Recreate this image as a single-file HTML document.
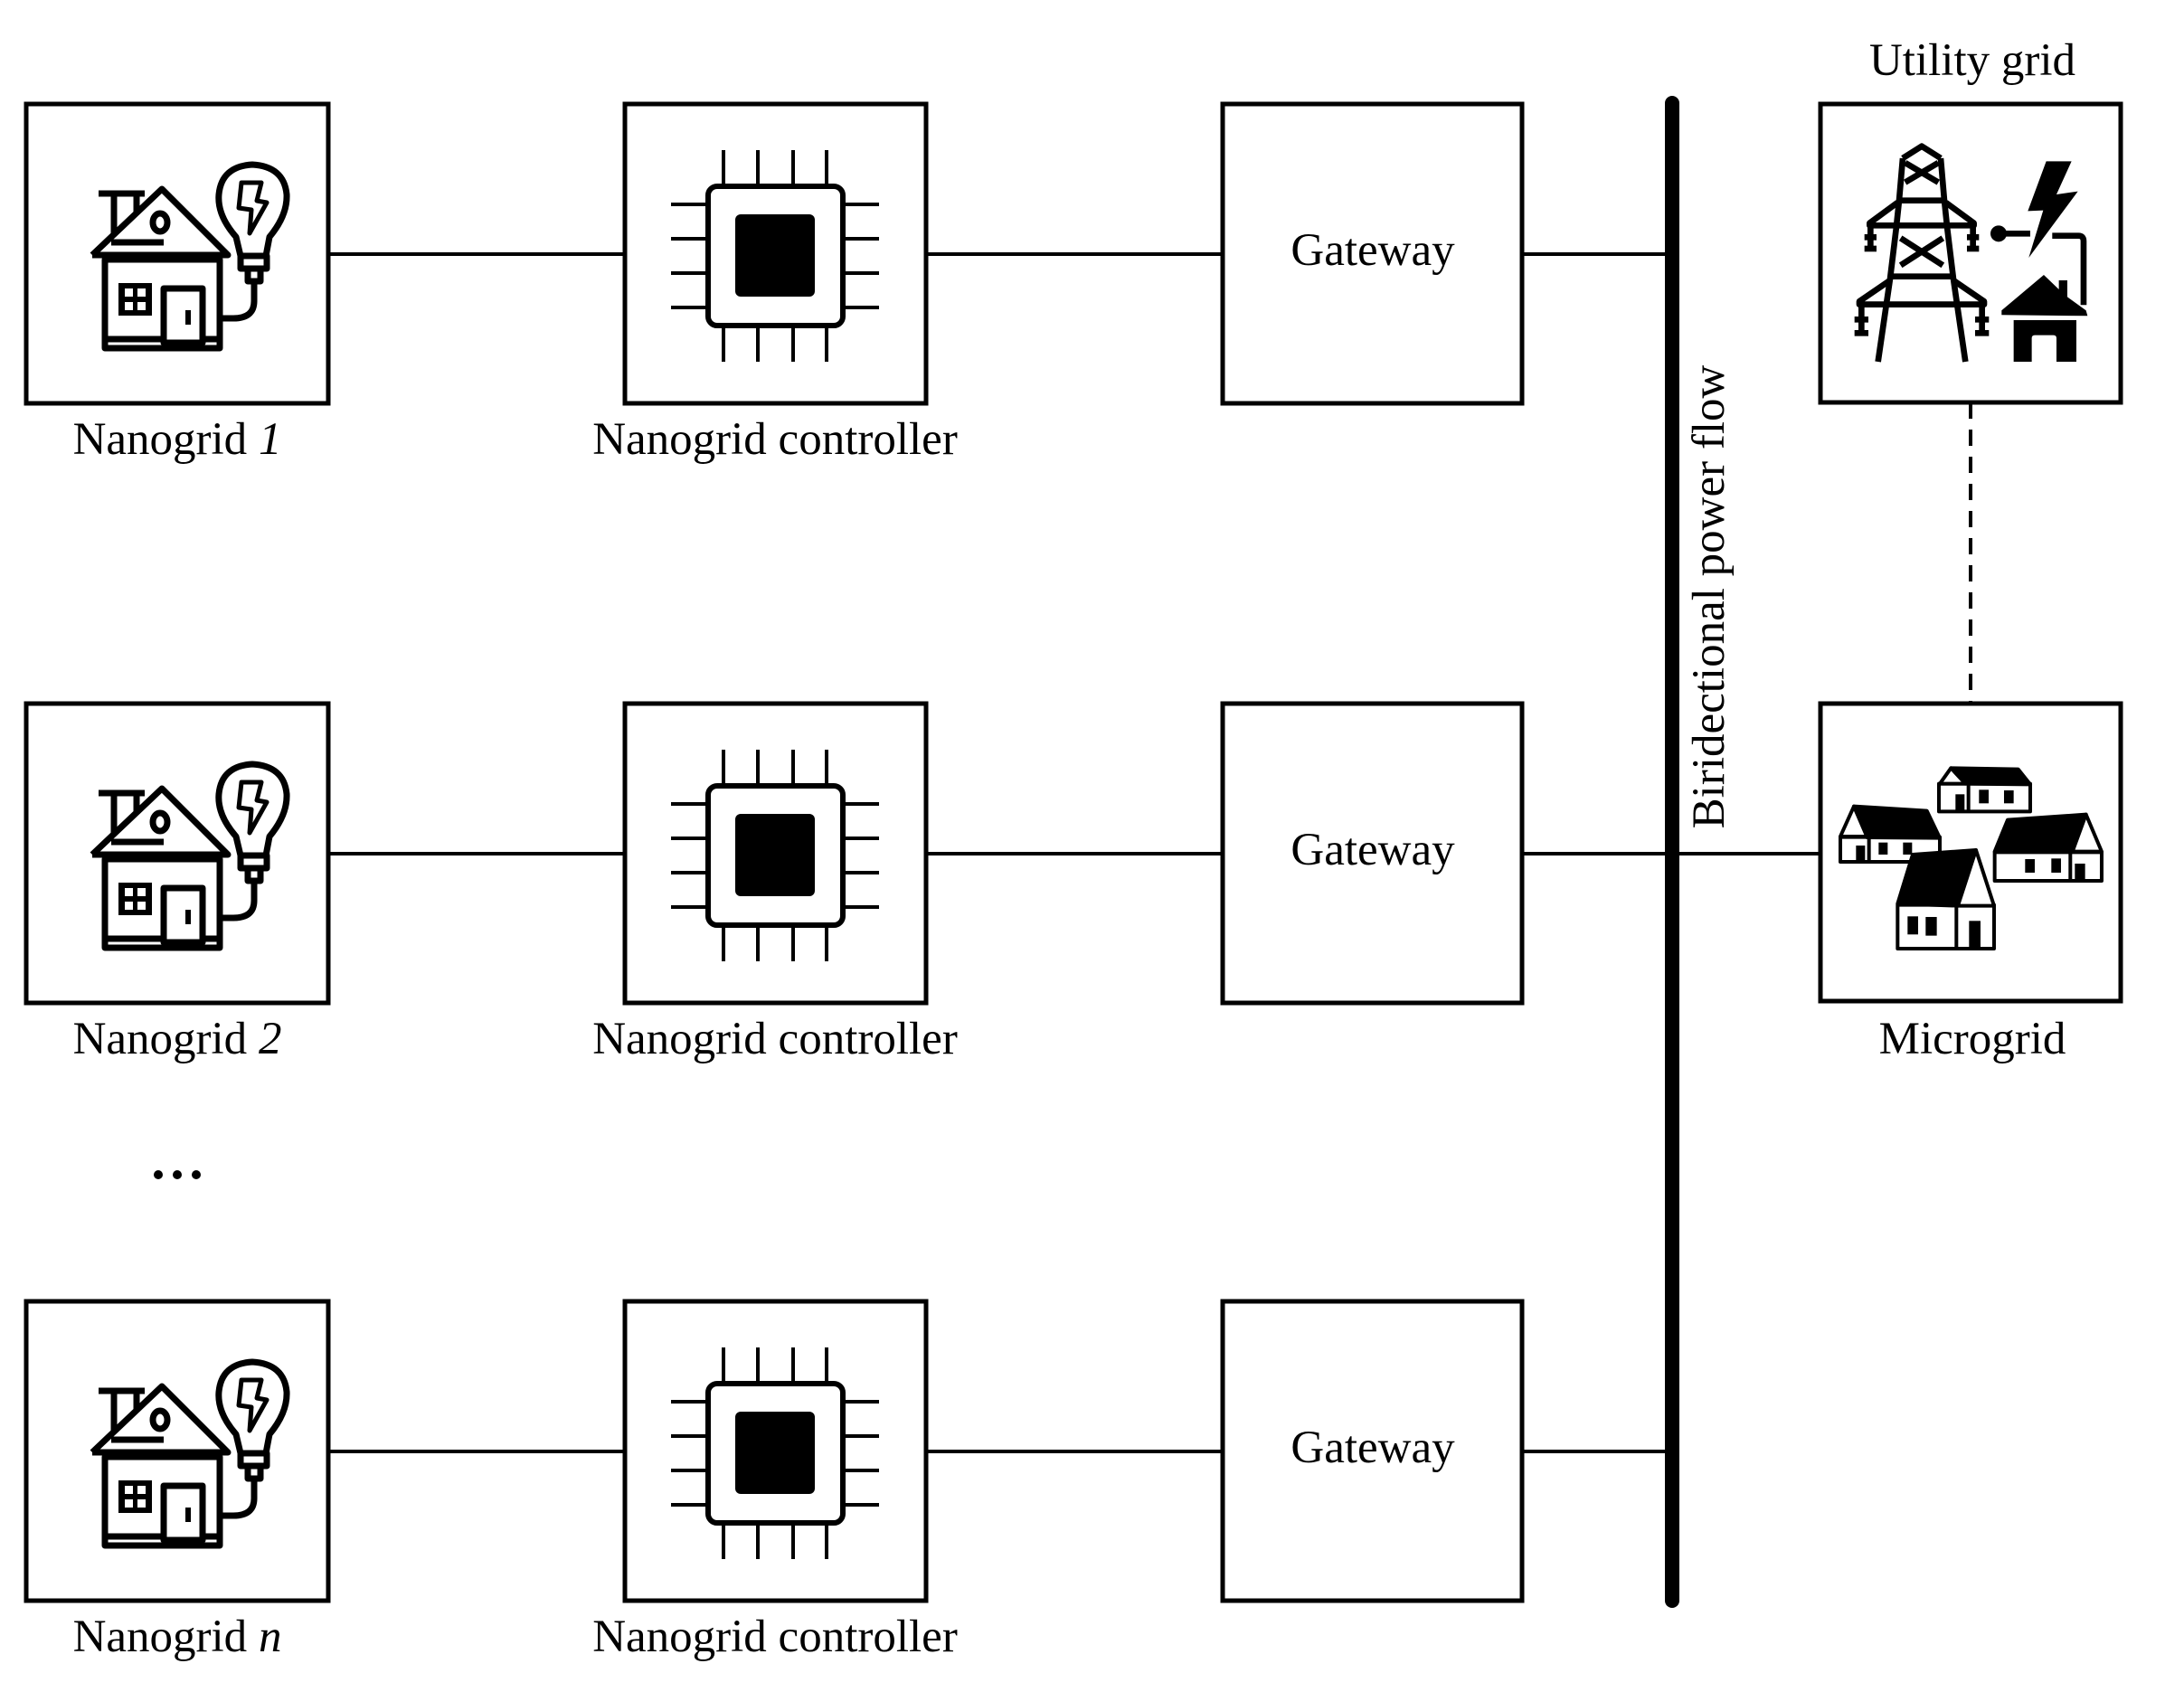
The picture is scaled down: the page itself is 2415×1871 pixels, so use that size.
<!DOCTYPE html>
<html><head><meta charset="utf-8"><style>html,body{margin:0;padding:0;background:#fff}svg{display:block}</style></head>
<body>
<svg xmlns="http://www.w3.org/2000/svg" width="2415" height="1871" viewBox="0 0 2415 1871">
<defs>
<g id="house">
  <g fill="none" stroke="#000" stroke-width="7" stroke-linejoin="round">
    <polyline points="102,282 179,209 252,282 102,282"/>
    <line x1="109" y1="214" x2="160" y2="214"/>
    <line x1="126" y1="214" x2="126" y2="259"/>
    <line x1="151" y1="214" x2="151" y2="234"/>
    <ellipse cx="177" cy="246" rx="8" ry="10"/>
    <line x1="123" y1="268" x2="181" y2="268"/>
    <rect x="116" y="287" width="127" height="98"/>
    <line x1="116" y1="375" x2="243" y2="375"/>
    <rect x="181" y="319" width="43" height="60" fill="#fff"/>
    <path d="M281,311 V333 Q281,352 258,352 H245"/>
    <path d="M266,283 L261,262 Q240,238 242,215 Q245,184 279,182 Q314,184 317,215 Q318,238 298,262 L294,283"/>
    <rect x="266" y="283" width="29" height="14"/>
    <rect x="274" y="297" width="14" height="14"/>
    <polygon points="267,202 289,202 284,222 295,224 276,258 278,232 264,230" stroke-width="5"/>
  </g>
  <rect x="131" y="313" width="37" height="36" fill="#000"/>
  <rect x="138" y="319" width="9" height="9" fill="#fff"/>
  <rect x="152" y="319" width="9" height="9" fill="#fff"/>
  <rect x="138" y="334" width="9" height="9" fill="#fff"/>
  <rect x="152" y="334" width="9" height="9" fill="#fff"/>
  <rect x="205" y="343" width="6" height="16" fill="#000"/>
</g>
<g id="chip">
  <g stroke="#000" stroke-width="4">
    <line x1="800" y1="166" x2="800" y2="206"/><line x1="838" y1="166" x2="838" y2="206"/>
    <line x1="877" y1="166" x2="877" y2="206"/><line x1="914" y1="166" x2="914" y2="206"/>
    <line x1="800" y1="360" x2="800" y2="400"/><line x1="838" y1="360" x2="838" y2="400"/>
    <line x1="877" y1="360" x2="877" y2="400"/><line x1="914" y1="360" x2="914" y2="400"/>
    <line x1="742" y1="226" x2="782" y2="226"/><line x1="742" y1="264" x2="782" y2="264"/>
    <line x1="742" y1="302" x2="782" y2="302"/><line x1="742" y1="340" x2="782" y2="340"/>
    <line x1="932" y1="226" x2="972" y2="226"/><line x1="932" y1="264" x2="972" y2="264"/>
    <line x1="932" y1="302" x2="972" y2="302"/><line x1="932" y1="340" x2="972" y2="340"/>
  </g>
  <rect x="783" y="206" width="149" height="154" rx="10" fill="#fff" stroke="#000" stroke-width="6"/>
  <rect x="813" y="237" width="88" height="91" rx="6" fill="#000"/>
</g>
</defs>

<g fill="none" stroke="#000" stroke-width="5">
  <rect x="29" y="115" width="334" height="331"/>
  <rect x="691" y="115" width="333" height="331"/>
  <rect x="1352" y="115" width="331" height="331"/>
  <rect x="29" y="778" width="334" height="331"/>
  <rect x="691" y="778" width="333" height="331"/>
  <rect x="1352" y="778" width="331" height="331"/>
  <rect x="29" y="1439" width="334" height="331"/>
  <rect x="691" y="1439" width="333" height="331"/>
  <rect x="1352" y="1439" width="331" height="331"/>
  <rect x="2013" y="115" width="332" height="330"/>
  <rect x="2013" y="778" width="332" height="329"/>
</g>
<g stroke="#000" stroke-width="4">
  <line x1="363" y1="281" x2="691" y2="281"/><line x1="1024" y1="281" x2="1352" y2="281"/><line x1="1683" y1="281" x2="1849" y2="281"/>
  <line x1="363" y1="944" x2="691" y2="944"/><line x1="1024" y1="944" x2="1352" y2="944"/><line x1="1683" y1="944" x2="2013" y2="944"/>
  <line x1="363" y1="1605" x2="691" y2="1605"/><line x1="1024" y1="1605" x2="1352" y2="1605"/><line x1="1683" y1="1605" x2="1849" y2="1605"/>
  <line x1="2179" y1="445" x2="2179" y2="778" stroke-dasharray="18,12"/>
</g>
<line x1="1849" y1="114" x2="1849" y2="1770" stroke="#000" stroke-width="16" stroke-linecap="round"/>

<use href="#house"/>
<use href="#house" y="663"/>
<use href="#house" y="1324"/>
<use href="#chip"/>
<use href="#chip" y="663"/>
<use href="#chip" y="1324"/>

<g transform="translate(2000,100) scale(0.3333)">
  <g fill="none" stroke="#000" stroke-width="20" stroke-linejoin="round">
    <polyline points="312,225 375,185 438,225"/>
    <polyline points="312,225 300,365 290,460 270,625 230,900"/>
    <polyline points="438,225 450,365 460,460 480,625 520,900"/>
    <line x1="300" y1="365" x2="450" y2="365"/>
    <line x1="290" y1="448" x2="460" y2="448"/>
    <line x1="270" y1="617" x2="480" y2="617"/>
    <line x1="255" y1="710" x2="495" y2="710"/>
    <line x1="320" y1="240" x2="430" y2="305"/><line x1="430" y1="240" x2="320" y2="305"/>
    <line x1="305" y1="490" x2="445" y2="580"/><line x1="445" y1="490" x2="305" y2="580"/>
    <polyline points="295,372 202,440 202,448 292,448"/>
    <polyline points="455,372 548,440 548,448 458,448"/>
    <polyline points="270,630 168,700 168,710 260,710"/>
    <polyline points="480,630 582,700 582,710 490,710"/>
    <line x1="205" y1="448" x2="205" y2="525"/><line x1="545" y1="448" x2="545" y2="525"/>
    <line x1="175" y1="710" x2="175" y2="805"/><line x1="575" y1="710" x2="575" y2="805"/>
    <line x1="185" y1="487" x2="225" y2="487"/><line x1="185" y1="525" x2="225" y2="525"/>
    <line x1="525" y1="487" x2="565" y2="487"/><line x1="525" y1="525" x2="565" y2="525"/>
    <line x1="152" y1="760" x2="198" y2="760"/><line x1="152" y1="805" x2="198" y2="805"/>
    <line x1="552" y1="760" x2="598" y2="760"/><line x1="552" y1="805" x2="598" y2="805"/>
    <line x1="630" y1="475" x2="735" y2="475"/>
    <path d="M808,482 H895 Q912,482 912,500 V712"/>
  </g>
  <circle cx="630" cy="475" r="27" fill="#000"/>
  <polygon points="788,235 872,235 822,345 893,335 730,555 778,398 727,400" fill="#000"/>
  <polygon points="640,745 640,730 780,612 830,660 830,630 858,630 858,685 920,730 925,748" fill="#000"/>
  <path d="M680,762 H888 V900 H822 V822 Q822,812 812,812 H750 Q740,812 740,822 V900 H680 Z" fill="#000"/>
</g>

<g transform="translate(2000,770) scale(0.3333)" stroke="#000" stroke-width="12" stroke-linejoin="round">
  <rect x="432" y="290" width="303" height="92" fill="#fff"/>
  <polygon points="472,238 695,242 735,292 520,290" fill="#000"/>
  <polygon points="435,290 472,238 520,290" fill="#fff"/>
  <line x1="530" y1="290" x2="530" y2="382"/>
  <rect x="487" y="325" width="30" height="55" fill="#000" stroke="none"/>
  <rect x="565" y="310" width="32" height="45" fill="#000" stroke="none"/>
  <rect x="648" y="312" width="32" height="43" fill="#000" stroke="none"/>

  <rect x="105" y="467" width="330" height="82" fill="#fff"/>
  <polygon points="150,365 392,380 435,470 193,468" fill="#000"/>
  <polygon points="105,465 150,365 193,465" fill="#fff"/>
  <line x1="200" y1="467" x2="200" y2="549"/>
  <rect x="157" y="495" width="30" height="50" fill="#000" stroke="none"/>
  <rect x="232" y="485" width="30" height="40" fill="#000" stroke="none"/>
  <rect x="313" y="485" width="30" height="40" fill="#000" stroke="none"/>

  <rect x="617" y="517" width="355" height="95" fill="#fff"/>
  <polygon points="617,515 660,410 920,392 875,515" fill="#000"/>
  <polygon points="875,515 920,392 972,515" fill="#fff"/>
  <line x1="868" y1="517" x2="868" y2="612"/>
  <rect x="883" y="555" width="34" height="55" fill="#000" stroke="none"/>
  <rect x="718" y="540" width="32" height="45" fill="#000" stroke="none"/>
  <rect x="805" y="538" width="32" height="47" fill="#000" stroke="none"/>

  <rect x="295" y="692" width="320" height="145" fill="#fff"/>
  <polygon points="295,688 345,525 555,510 495,695" fill="#000"/>
  <polygon points="495,695 555,510 615,695" fill="#fff"/>
  <line x1="490" y1="692" x2="490" y2="837"/>
  <rect x="532" y="745" width="38" height="90" fill="#000" stroke="none"/>
  <rect x="328" y="730" width="35" height="60" fill="#000" stroke="none"/>
  <rect x="388" y="732" width="37" height="62" fill="#000" stroke="none"/>
</g>

<circle cx="175" cy="1299" r="5" fill="#000"/>
<circle cx="196" cy="1299" r="5" fill="#000"/>
<circle cx="217" cy="1299" r="5" fill="#000"/>

<g font-family="Liberation Serif, serif" font-size="51" text-anchor="middle" fill="#000">
  <text x="196" y="502">Nanogrid <tspan font-style="italic">1</tspan></text>
  <text x="857" y="502">Nanogrid controller</text>
  <text x="1518" y="293">Gateway</text>
  <text x="196" y="1165">Nanogrid <tspan font-style="italic">2</tspan></text>
  <text x="857" y="1165">Nanogrid controller</text>
  <text x="1518" y="956">Gateway</text>
  <text x="196" y="1826">Nanogrid <tspan font-style="italic">n</tspan></text>
  <text x="857" y="1826">Nanogrid controller</text>
  <text x="1518" y="1617">Gateway</text>
  <text x="2181" y="83">Utility grid</text>
  <text x="2181" y="1165">Microgrid</text>
  <text transform="translate(1906,660) rotate(-90)" x="0" y="0">Biridectional power flow</text>
</g>
</svg>
</body></html>
